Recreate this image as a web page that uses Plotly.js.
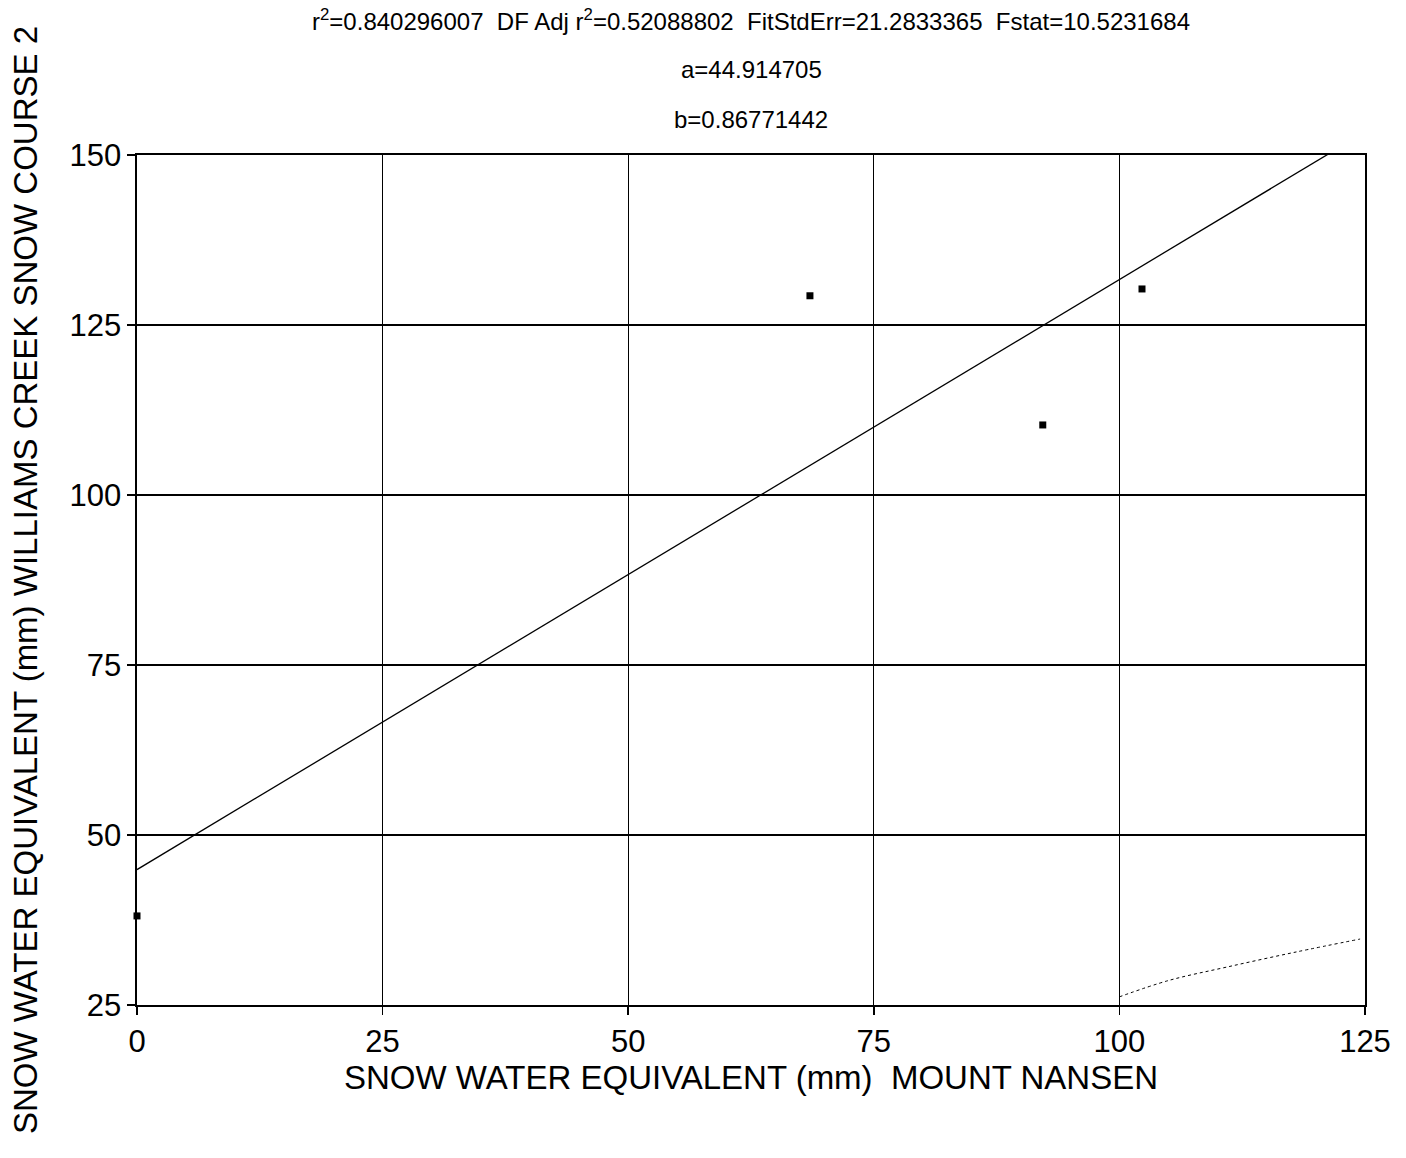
<!DOCTYPE html>
<html>
<head>
<meta charset="utf-8">
<script src="https://cdn.plot.ly/plotly-3.0.1.min.js"></script>
<style>html,body{margin:0;padding:0;background:#fff;}#chart{width:1406px;height:1158px;}</style>
</head>
<body>
<div id="chart"></div>
<script>
// Observed data (Mount Nansen vs Williams Creek Snow Course 2), mm
const xObs = [0, 68.5, 92.2, 102.3];
const yObs = [38.1, 129.3, 110.3, 130.3];

// Fit parameters y = a + b*x
const fitA = 44.914705;
const fitB = 0.86771442;
const fitX = [0, 125];

// Faint dotted band segment seen at lower right
const bandX = [100, 105, 111, 118, 124.5];
const bandY = [26.2, 28.6, 30.6, 32.8, 34.7];

const statLines = [
  "r<sup>2</sup>=0.840296007  DF Adj r<sup>2</sup>=0.52088802  FitStdErr=21.2833365  Fstat=10.5231684",
  "a=44.914705",
  "b=0.86771442"
];
const xTicks = [0, 25, 50, 75, 100, 125];
const yTicks = [25, 50, 75, 100, 125, 150];
const xTitle = "SNOW WATER EQUIVALENT (mm)  MOUNT NANSEN";
const yTitle = "SNOW WATER EQUIVALENT (mm) WILLIAMS CREEK SNOW COURSE 2";

const FONT = "Liberation Sans, Arial, sans-serif";

const traces = [
  {
    x: fitX, y: fitX.map(v => fitA + fitB * v),
    mode: "lines", line: {color: "#000", width: 1.3},
    hoverinfo: "skip", showlegend: false
  },
  {
    x: bandX, y: bandY,
    mode: "lines", line: {color: "#000", width: 1, dash: "dot", shape: "spline"},
    hoverinfo: "skip", showlegend: false
  },
  {
    x: xObs, y: yObs,
    mode: "markers", marker: {symbol: "square", size: 7, color: "#000"},
    showlegend: false, cliponaxis: false
  }
];

const H = 1158, MT = 155, MB = 153;
const statCenters = [20, 70, 119];
const annotations = statLines.map((t, i) => ({
  text: t, xref: "paper", yref: "paper",
  x: 0.5, y: (H - statCenters[i] - MB) / (H - MT - MB),
  xanchor: "center", yanchor: "middle", showarrow: false,
  font: {family: FONT, size: 24, color: "#000"}
}));

const layout = {
  width: 1406, height: H,
  margin: {l: 137, r: 41, t: MT, b: MB},
  paper_bgcolor: "#fff", plot_bgcolor: "#fff",
  font: {family: FONT, color: "#000"},
  showlegend: false,
  xaxis: {
    range: [0, 125], tickvals: xTicks, ticktext: xTicks.map(String),
    showgrid: true, gridcolor: "#000", gridwidth: 1.3,
    showline: true, linecolor: "#000", linewidth: 1.6, mirror: true,
    ticks: "outside", ticklen: 8, tickwidth: 1.5, tickcolor: "#000",
    zeroline: false,
    tickfont: {family: FONT, size: 31, color: "#000"},
    title: {text: xTitle, font: {family: FONT, size: 33, color: "#000"}, standoff: 0}
  },
  yaxis: {
    range: [25, 150], tickvals: yTicks, ticktext: yTicks.map(String),
    showgrid: true, gridcolor: "#000", gridwidth: 1.3,
    showline: true, linecolor: "#000", linewidth: 1.6, mirror: true,
    ticks: "outside", ticklen: 8, tickwidth: 1.5, tickcolor: "#000",
    zeroline: false,
    tickfont: {family: FONT, size: 31, color: "#000"},
    title: {text: yTitle, font: {family: FONT, size: 33, color: "#000"}, standoff: 22}
  },
  annotations: annotations
};

Plotly.newPlot("chart", traces, layout, {staticPlot: true, displayModeBar: false});
</script>
</body>
</html>
